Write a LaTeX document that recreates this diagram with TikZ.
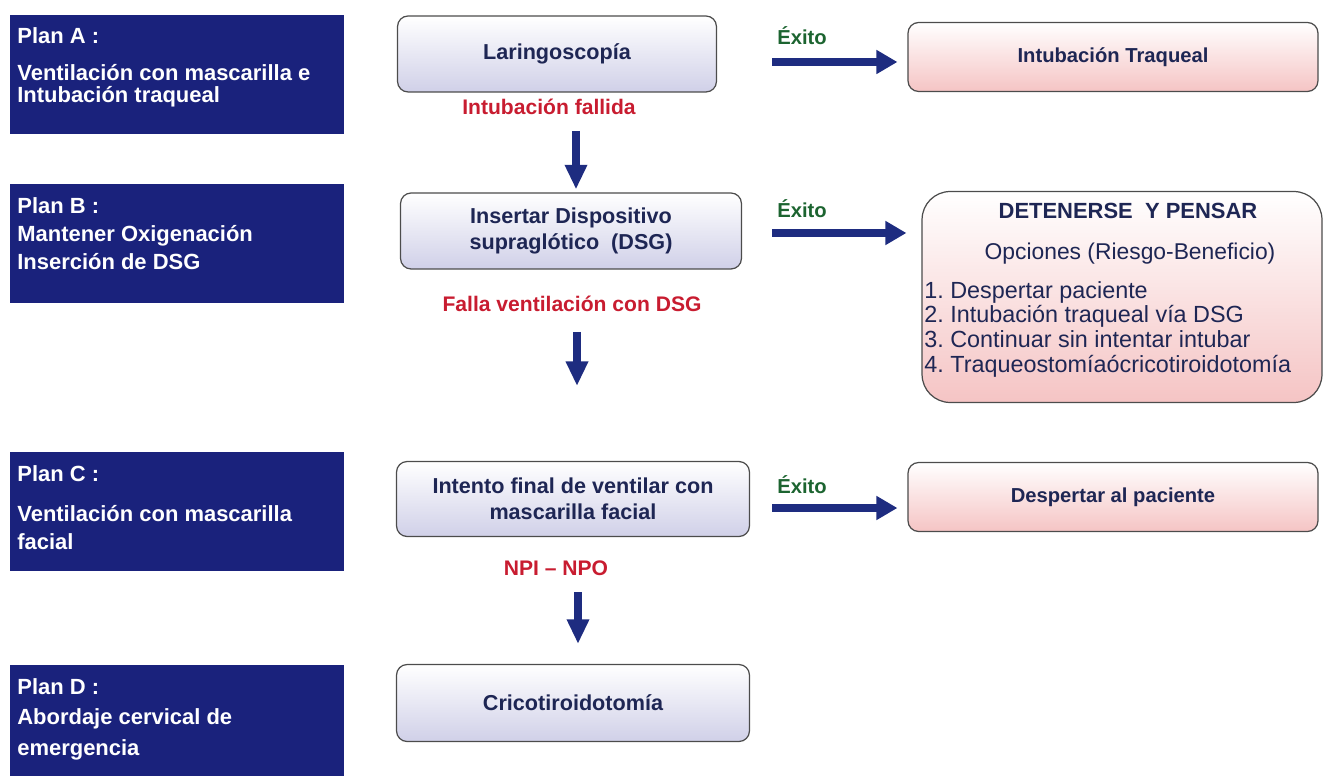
\documentclass[tikz,border=0pt]{standalone}
\usepackage{fontspec}
\setmainfont{Liberation Sans}
\usetikzlibrary{arrows.meta}
\definecolor{plannavy}{RGB}{26,34,124}
\definecolor{flownavy}{RGB}{30,44,128}
\definecolor{boxtext}{RGB}{30,38,84}
\definecolor{exitgreen}{RGB}{28,100,48}
\definecolor{failred}{RGB}{200,28,48}
\definecolor{lilac}{RGB}{208,208,232}
\definecolor{rose}{RGB}{245,196,196}
\frenchspacing
\begin{document}
\begin{tikzpicture}[x=0.02cm,y=-0.02cm,
  planbox/.style={fill=plannavy,anchor=north west,minimum width=6.68cm,minimum height=2.38cm,inner sep=0},
  plantxt/.style={anchor=north west,inner sep=0,text=white,align=left,font=\fontsize{12.5}{13}\selectfont\bfseries},
  stepbox/.style={draw=black!70,line width=.7pt,rounded corners=6pt,top color=white,bottom color=lilac,text=boxtext,align=center,font=\fontsize{12.3}{15}\selectfont\bfseries},
  okbox/.style={draw=black!70,line width=.7pt,rounded corners=6pt,top color=white,bottom color=rose,text=boxtext,font=\fontsize{11.5}{14}\selectfont\bfseries},
  exito/.style={anchor=base west,inner sep=0,text=exitgreen,font=\fontsize{11.5}{14}\selectfont\bfseries},
  falla/.style={anchor=base,inner sep=0,text=failred,font=\fontsize{12}{14}\selectfont\bfseries},
  hflow/.style={flownavy,line width=4pt,-{Triangle[length=12pt,width=13pt]}},
  vflow/.style={flownavy,line width=5pt,-{Triangle[length=14pt,width=12pt]}}]
\useasboundingbox (0,0) rectangle (1327,776);
% planes
\node[planbox] (planA) at (10,15) {};
\node[plantxt] (planAtxt) at (17,27) {Plan A :\\[8pt]Ventilación con mascarilla e\\Intubación traqueal};
\node[planbox] (planB) at (10,184) {};
\node[plantxt] (planBtxt) at (17,197) {Plan B :\\[3pt]Mantener Oxigenación\\[3pt]Inserción de DSG};
\node[planbox] (planC) at (10,452) {};
\node[plantxt] (planCtxt) at (17,465) {Plan C :\\[10pt]Ventilación con mascarilla\\[3pt]facial};
\node[planbox] (planD) at (10,665) {};
\node[plantxt] (planDtxt) at (17,678) {Plan D :\\[4pt]Abordaje cervical de\\[5pt]emergencia};
% pasos
\node[stepbox,minimum width=6.38cm,minimum height=1.52cm] (laring) at (557,54) {Laringoscopía};
\node[stepbox,minimum width=6.82cm,minimum height=1.52cm] (insertar) at (571,231) {Insertar Dispositivo\\supraglótico\ \ (DSG)};
\node[stepbox,minimum width=7.06cm,minimum height=1.5cm] (intento) at (573,499) {Intento final de ventilar con\\mascarilla facial};
\node[stepbox,minimum width=7.06cm,minimum height=1.54cm] (crico) at (573,703) {Cricotiroidotomía};
% exito
\node[okbox,minimum width=8.2cm,minimum height=1.38cm] (intub) at (1113,57) {Intubación Traqueal};
\node[okbox,minimum width=8.2cm,minimum height=1.38cm] (despertar) at (1113,497) {Despertar al paciente};
\node[okbox,rounded corners=16pt,minimum width=8cm,minimum height=4.22cm] (pensar) at (1122,297) {};
\node[text=boxtext,font=\fontsize{12.5}{15}\selectfont\bfseries] (pensartit) at (1128,211) {DETENERSE\ \ Y PENSAR};
\node[text=boxtext,font=\fontsize{13}{15}\selectfont] (opciones) at (1130,254) {Opciones (Riesgo-Beneficio)};
\node[anchor=north west,inner sep=0,align=left,text=boxtext,font=\fontsize{13.3}{14}\selectfont] (lista) at (924,281) {1. Despertar paciente\\2. Intubación traqueal vía DSG\\3. Continuar sin intentar intubar\\4. Traqueostomíaócricotiroidotomía};
% etiquetas
\node[exito] (ex1) at (777,45) {Éxito};
\node[exito] (ex2) at (777,218) {Éxito};
\node[exito] (ex3) at (777,493) {Éxito};
\node[falla] (fail1) at (549,115) {Intubación fallida};
\node[falla] (fail2) at (572,312) {Falla ventilación con DSG};
\node[falla] (fail3) at (556,575) {NPI – NPO};
% flechas
\coordinate (h1) at (772,62);
\coordinate (h2) at (772,233);
\coordinate (h3) at (772,508);
\draw[hflow,shorten >=0.2cm] (h1) -- (h1 -| intub.west);
\draw[hflow,shorten >=0.3cm] (h2) -- (h2 -| pensar.west);
\draw[hflow,shorten >=0.2cm] (h3) -- (h3 -| despertar.west);
\coordinate (v1) at (576,131);
\coordinate (v2) at (577,332);
\coordinate (v2e) at (577,386);
\coordinate (v3) at (578,592);
\draw[vflow,shorten >=0.06cm] (v1) -- (v1 |- insertar.north);
\draw[vflow] (v2) -- (v2e);
\draw[vflow,shorten >=0.4cm] (v3) -- (v3 |- crico.north);
\end{tikzpicture}
\end{document}
